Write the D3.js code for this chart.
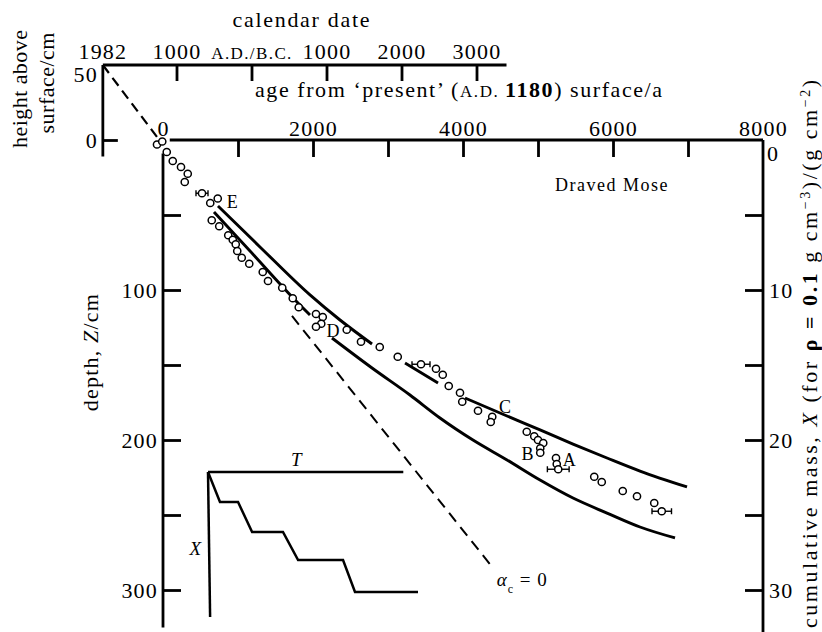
<!DOCTYPE html>
<html>
<head>
<meta charset="utf-8">
<script src="https://cdn.jsdelivr.net/npm/d3@7"></script>
<style>
  body { margin: 0; background: #fff; }
  svg { display: block; font-family: 'Liberation Serif', 'Times New Roman', serif; }
</style>
</head>
<body>
<div id="chart"></div>
<script>
// peat samples: age from 'present' (a) and depth (cm)
const pointAge = [-80, -10, 50, 130, 240, 330, 290, 520, 630, 730, 650, 750, 870, 930, 970, 990,
  1050, 1150, 1330, 1400, 1590, 1730, 1810, 2040, 2130, 2110, 2040, 2450, 2640, 2890, 3130, 3440,
  3640, 3730, 3810, 3960, 3990, 4200, 4390, 4370, 4850, 4950, 5000, 5070, 5030, 5030, 5240, 5250,
  5270, 5750, 5850, 6130, 6320, 6550, 6650];
const pointDepth = [3, 1, 8, 14, 18, 22.5, 28, 35.5, 42, 39, 53.5, 57.5, 63.5, 66.5, 69.5, 74,
  78.5, 82.5, 88, 94, 98.5, 105.5, 111.5, 116, 118, 122.5, 124.5, 126.5, 134.5, 138, 144.5, 149.5,
  152.5, 156.5, 164, 168.5, 174.5, 180.5, 184.5, 188, 194.5, 197.5, 200, 202, 205.5, 208.5, 212, 216,
  219.5, 224.5, 228, 234, 237.5, 242, 247.5];

// horizontal age error bars
const errorIndex = [7, 31, 48, 54];
const errorHalf = [80, 120, 145, 130];

// model curves (null = gap in the drawn line)
const upperAge = [733, 1293, 1960, 2360, 2787, null, 3227, 3667, null, 4027, 4587, 5027, 5467, 5920, 6360, 6987];
const upperDepth = [44, 71.3, 103.3, 120, 136, null, 148.7, 162, null, 172, 184, 193.3, 202.7, 212, 220.7, 231.3];
const lowerAge = [680, 1160, 1800, 1960, null, 2253, 2787, 3293, 3693, 4133, 4587, 5027, 5467, 5920, 6360, 6827];
const lowerDepth = [48, 74, 108.7, 116.7, null, 132, 152, 170, 185.3, 200, 213.3, 226.7, 238.7, 248.7, 258, 265.3];
const alphaAge = [1720, 4390];
const alphaDepth = [117.3, 284.7];
const trendAge = [-802, -80];
const trendHeight = [50, 2];

// ticks
const ageTicks = [0, 1000, 2000, 3000, 4000, 5000, 6000, 7000, 8000];
const ageLabels = [0, 2000, 4000, 6000, 8000];
const depthTicks = [50, 100, 150, 200, 250, 300];
const depthLabels = [100, 200, 300];
const massTicks = [0, 5, 10, 15, 20, 25, 30];
const massLabels = [0, 10, 20, 30];
const calendarTicks = [1000, 0, -1000, -2000, -3000];
const calendarLabels = ['1000', 'A.D./B.C.', '1000', '2000', '3000'];
const heightTicks = [0, 50];

const sampleLabels = ['E', 'D', 'C', 'B', 'A'];
const sampleLabelAge = [850, 2180, 4480, 4780, 5330];
const sampleLabelDepth = [45, 131.5, 182, 213.5, 217];

// inset sketch: cumulative mass X against time T
const insetT = [0, 0.057, 0.143, 0.21, 0.357, 0.429, 0.643, 0.7, 1.0];
const insetX = [0, 0.207, 0.207, 0.414, 0.414, 0.607, 0.607, 0.828, 0.828];

const width = 822;
const height = 632;
const fontSize = 22;
const spacing = 1.2;

const x = d3.scaleLinear().domain([0, 8000]).range([163, 763]);
const z = d3.scaleLinear().domain([0, 300]).range([140, 590]);
const mass = d3.scaleLinear().domain([0, 30]).range([140, 590]);
const hgt = d3.scaleLinear().domain([0, 50]).range([140, 65]);
const cal = d3.scaleLinear().domain([1180, 1180 - 8000]).range([163, 763]);

const tx = d3.scaleLinear().domain([0, 1]).range([208, 418]);
const ty = d3.scaleLinear().domain([0, 1]).range([472, 617]);

const svg = d3.select('#chart').append('svg')
    .attr('width', width)
    .attr('height', height);

function styleAxis(g) {
  g.attr('font-size', fontSize)
      .attr('font-family', null)
      .attr('letter-spacing', spacing);
  g.select('.domain').remove();
  g.selectAll('.tick line')
      .attr('stroke', '#000')
      .attr('stroke-width', 2.8);
  g.selectAll('.tick text').attr('fill', '#000');
}

function axisLine(x1, y1, x2, y2) {
  svg.append('line')
      .attr('x1', x1).attr('y1', y1)
      .attr('x2', x2).attr('y2', y2)
      .attr('stroke', '#000')
      .attr('stroke-width', 2.8);
}

// age axis (top of main frame)
svg.append('g')
    .attr('transform', `translate(0,${z(0)})`)
    .call(d3.axisTop(x)
      .tickValues(ageTicks)
      .tickSizeInner(-17)
      .tickSizeOuter(0)
      .tickPadding(4)
      .tickFormat(d => ageLabels.includes(d) ? d : ''))
    .call(styleAxis)
    .call(g => g.selectAll('.tick line').filter(d => d === 0 || d === 8000).remove());
axisLine(x(90), z(0), x(8000), z(0));

// depth axis
svg.append('g')
    .attr('transform', `translate(${x(0)},0)`)
    .call(d3.axisLeft(z)
      .tickValues(depthTicks)
      .tickSizeInner(-18)
      .tickSizeOuter(0)
      .tickPadding(5)
      .tickFormat(d => depthLabels.includes(d) ? d : ''))
    .call(styleAxis);
axisLine(x(0), z(9), x(0), z(325));

// cumulative mass axis
svg.append('g')
    .attr('transform', `translate(${x(8000)},0)`)
    .call(d3.axisRight(mass)
      .tickValues(massTicks)
      .tickSizeInner(-18)
      .tickSizeOuter(0)
      .tickPadding(6)
      .tickFormat(d => massLabels.includes(d) ? d : ''))
    .call(styleAxis)
    .call(g => g.selectAll('.tick').filter(d => d === 0).select('line').remove())
    .call(g => g.selectAll('.tick').filter(d => d === 0).select('text').attr('dy', '0.95em').attr('x', 4));
axisLine(x(8000), mass(0), x(8000), height);

// calendar date axis
svg.append('g')
    .attr('transform', `translate(0,${hgt(50)})`)
    .call(d3.axisTop(cal)
      .tickValues(calendarTicks)
      .tickSizeInner(-16)
      .tickSizeOuter(0)
      .tickPadding(6)
      .tickFormat((d, i) => calendarLabels[i]))
    .call(styleAxis)
    .call(g => g.selectAll('.tick').filter(d => d === 0).select('text')
      .attr('font-size', 17)
      .attr('letter-spacing', 1.4));
axisLine(cal(1982), hgt(50), cal(-3400), hgt(50));

svg.append('text')
    .attr('x', cal(1982))
    .attr('y', hgt(50) - 6)
    .attr('text-anchor', 'middle')
    .attr('font-size', fontSize)
    .attr('letter-spacing', spacing)
    .text('1982');

// height above surface axis
svg.append('g')
    .attr('transform', `translate(${cal(1982)},0)`)
    .call(d3.axisLeft(hgt)
      .tickValues(heightTicks)
      .tickSizeInner(-15)
      .tickSizeOuter(0)
      .tickPadding(5))
    .call(styleAxis)
    .call(g => g.selectAll('.tick').filter(d => d === 50).select('line').remove())
    .call(g => g.selectAll('.tick').filter(d => d === 50).select('text').attr('dy', '0.75em'));
axisLine(cal(1982), hgt(50), cal(1982), z(11));

// axis titles
svg.append('text')
    .attr('x', 301)
    .attr('y', 27)
    .attr('text-anchor', 'middle')
    .attr('font-size', fontSize)
    .attr('textLength', 137)
    .attr('lengthAdjust', 'spacing')
    .text('calendar date');

const ageTitle = svg.append('text')
    .attr('x', 255)
    .attr('y', 97)
    .attr('font-size', fontSize)
    .attr('textLength', 407)
    .attr('lengthAdjust', 'spacing');
ageTitle.append('tspan').text('age from \u2018present\u2019 (');
ageTitle.append('tspan').attr('font-size', 17).text('A.D. ');
ageTitle.append('tspan').attr('font-weight', 'bold').text('1180');
ageTitle.append('tspan').text(') surface/a');

svg.append('text')
    .attr('transform', 'translate(27,89) rotate(-90)')
    .attr('text-anchor', 'middle')
    .attr('font-size', fontSize)
    .attr('textLength', 118)
    .attr('lengthAdjust', 'spacing')
    .text('height above');

svg.append('text')
    .attr('transform', 'translate(54,83) rotate(-90)')
    .attr('text-anchor', 'middle')
    .attr('font-size', fontSize)
    .attr('textLength', 101)
    .attr('lengthAdjust', 'spacing')
    .text('surface/cm');

const depthTitle = svg.append('text')
    .attr('transform', 'translate(98,352) rotate(-90)')
    .attr('text-anchor', 'middle')
    .attr('font-size', fontSize)
    .attr('letter-spacing', spacing);
depthTitle.append('tspan').text('depth, ');
depthTitle.append('tspan').attr('font-style', 'italic').text('Z');
depthTitle.append('tspan').text('/cm');

const massTitle = svg.append('text')
    .attr('transform', 'translate(817,80) rotate(-90)')
    .attr('text-anchor', 'end')
    .attr('font-size', fontSize)
    .attr('textLength', 548)
    .attr('lengthAdjust', 'spacing');
massTitle.append('tspan').text('cumulative mass, ');
massTitle.append('tspan').attr('font-style', 'italic').text('X');
massTitle.append('tspan').text(' (for ');
massTitle.append('tspan').attr('font-weight', 'bold').text('\u03C1 = 0.1');
massTitle.append('tspan').text(' g cm');
massTitle.append('tspan').attr('font-size', 14).attr('baseline-shift', 'super').text('\u22123');
massTitle.append('tspan').text(')/(g cm');
massTitle.append('tspan').attr('font-size', 14).attr('baseline-shift', 'super').text('\u22122');
massTitle.append('tspan').text(')');

// model curves
const line = d3.line()
    .defined(d => d[0] !== null)
    .x(d => x(d[0]))
    .y(d => z(d[1]))
    .curve(d3.curveMonotoneX);

svg.selectAll('.model')
  .data([d3.zip(upperAge, upperDepth), d3.zip(lowerAge, lowerDepth)])
  .join('path')
    .attr('class', 'model')
    .attr('d', line)
    .attr('fill', 'none')
    .attr('stroke', '#000')
    .attr('stroke-width', 2.9);

svg.append('path')
    .attr('d', line(d3.zip(alphaAge, alphaDepth)))
    .attr('fill', 'none')
    .attr('stroke', '#000')
    .attr('stroke-width', 2)
    .attr('stroke-dasharray', '11,7');

svg.append('path')
    .attr('d', d3.line().x(d => x(d[0])).y(d => hgt(d[1]))(d3.zip(trendAge, trendHeight)))
    .attr('fill', 'none')
    .attr('stroke', '#000')
    .attr('stroke-width', 2.2)
    .attr('stroke-dasharray', '10,6');

// error bars
const bars = svg.selectAll('.err')
  .data(errorIndex.map((k, i) => ({age: pointAge[k], depth: pointDepth[k], half: errorHalf[i]})))
  .join('g')
    .attr('class', 'err')
    .attr('stroke', '#000')
    .attr('stroke-width', 1.4);
bars.append('line')
    .attr('x1', d => x(d.age - d.half))
    .attr('x2', d => x(d.age + d.half))
    .attr('y1', d => z(d.depth))
    .attr('y2', d => z(d.depth));
bars.selectAll('.cap')
  .data(d => [[d.age - d.half, d.depth], [d.age + d.half, d.depth]])
  .join('line')
    .attr('class', 'cap')
    .attr('x1', d => x(d[0]))
    .attr('x2', d => x(d[0]))
    .attr('y1', d => z(d[1]) - 3)
    .attr('y2', d => z(d[1]) + 3);

// samples
svg.selectAll('.sample')
  .data(d3.zip(pointAge, pointDepth))
  .join('circle')
    .attr('class', 'sample')
    .attr('cx', d => x(d[0]))
    .attr('cy', d => z(d[1]))
    .attr('r', 3.6)
    .attr('fill', '#fff')
    .attr('stroke', '#000')
    .attr('stroke-width', 1.5);

svg.selectAll('.sample-label')
  .data(sampleLabels)
  .join('text')
    .attr('class', 'sample-label')
    .attr('x', (d, i) => x(sampleLabelAge[i]))
    .attr('y', (d, i) => z(sampleLabelDepth[i]))
    .attr('font-size', 18)
    .text(d => d);

svg.append('text')
    .attr('x', x(5227))
    .attr('y', z(34))
    .attr('font-size', 18)
    .attr('letter-spacing', 1.5)
    .text('Draved Mose');

const alphaLabel = svg.append('text')
    .attr('x', x(4450))
    .attr('y', z(297))
    .attr('font-size', 19)
    .attr('letter-spacing', 1);
alphaLabel.append('tspan').attr('font-style', 'italic').text('\u03B1');
alphaLabel.append('tspan').attr('font-size', 12).attr('baseline-shift', 'sub').text('c');
alphaLabel.append('tspan').text(' = 0');

// inset
const inset = svg.append('g')
    .attr('fill', 'none')
    .attr('stroke', '#000')
    .attr('stroke-width', 2.5);
inset.append('line')
    .attr('x1', tx(0)).attr('y1', ty(0))
    .attr('x2', tx(0.93)).attr('y2', ty(0));
inset.append('line')
    .attr('x1', tx(0)).attr('y1', ty(0))
    .attr('x2', tx(0.01)).attr('y2', ty(1));
inset.append('path')
    .attr('d', d3.line().x(d => tx(d[0])).y(d => ty(d[1]))(d3.zip(insetT, insetX)));

svg.append('text')
    .attr('x', tx(0.42))
    .attr('y', ty(0) - 6)
    .attr('text-anchor', 'middle')
    .attr('font-size', 19)
    .attr('font-style', 'italic')
    .text('T');

svg.append('text')
    .attr('x', tx(-0.06))
    .attr('y', ty(0.57))
    .attr('text-anchor', 'middle')
    .attr('font-size', 19)
    .attr('font-style', 'italic')
    .text('X');
</script>
</body>
</html>
